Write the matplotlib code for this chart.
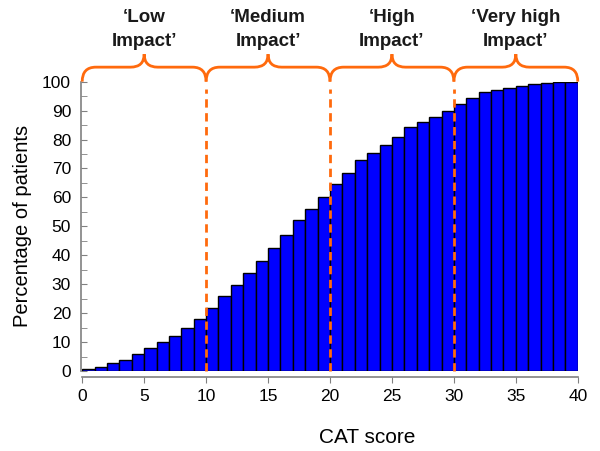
import matplotlib.pyplot as plt
from matplotlib.path import Path
from matplotlib.patches import PathPatch

plt.rcParams['font.family'] = ['Liberation Sans', 'DejaVu Sans']

# cumulative percentage of patients per CAT score (bars 0..39)
scores = list(range(40))
percent = [0.8, 1.5, 2.7, 3.9, 5.8, 7.9, 10.0, 12.1, 14.9, 18.0,
           21.9, 26.1, 29.6, 33.8, 38.2, 42.7, 47.2, 52.3, 56.1, 60.0,
           64.6, 68.5, 72.8, 75.2, 78.0, 80.9, 84.4, 85.9, 87.8, 90.0,
           92.3, 94.3, 96.4, 97.0, 97.8, 98.6, 99.2, 99.5, 99.8, 100.0]

cut_points = [10, 20, 30]
groups = ['\u2018Low\nImpact\u2019', '\u2018Medium\nImpact\u2019',
          '\u2018High\nImpact\u2019', '\u2018Very high\nImpact\u2019']
group_ranges = [(0, 10), (10, 20), (20, 30), (30, 40)]

orange = '#FF6A0D'

fig = plt.figure(figsize=(6, 4.51), dpi=100)
ax = fig.add_axes([0.137, 0.177, 0.826, 0.642])

ax.bar(scores, percent, width=1.0, align='edge', color='#0000FF',
       edgecolor='black', linewidth=1.0, zorder=2)

for c in cut_points:
    ax.plot([c, c], [0, 97.5], color=orange, lw=2, ls=(0, (3, 2)),
            zorder=3, clip_on=False)

# curly braces above each group
for (a, b), txt in zip(group_ranges, groups):
    m = (a + b) / 2
    r = 1.1
    yb, yh, yt = 100, 105, 109.5
    verts = [(a, yb), (a, yh), (a + r, yh),
             (m - r, yh), (m, yh), (m, yt),
             (m, yh), (m + r, yh),
             (b - r, yh), (b, yh), (b, yb)]
    codes = [Path.MOVETO, Path.CURVE3, Path.CURVE3,
             Path.LINETO, Path.CURVE3, Path.CURVE3,
             Path.CURVE3, Path.CURVE3,
             Path.LINETO, Path.CURVE3, Path.CURVE3]
    ax.add_patch(PathPatch(Path(verts, codes), fill=False, ec=orange,
                           lw=2, clip_on=False, zorder=3))
    ax.text(m, 118, txt, ha='center', va='center', fontsize=13.5,
            fontweight='bold', linespacing=1.6, color='#1a1a1a')

ax.set_xlim(0, 40)
ax.set_ylim(0, 100)
ax.set_xticks(range(0, 41, 5))
ax.set_yticks(range(0, 101, 10))
ax.set_yticks(range(5, 100, 10), minor=True)

for s in ['top', 'right']:
    ax.spines[s].set_visible(False)
for s in ['left', 'bottom']:
    ax.spines[s].set_color('#808080')
    ax.spines[s].set_linewidth(1.2)
ax.spines['bottom'].set_position(('outward', 4))
ax.spines['left'].set_position(('outward', 1))

ax.tick_params(axis='y', which='both', direction='in', length=4,
               color='#808080', labelsize=12.5, pad=7)
ax.tick_params(axis='x', direction='out', length=4, color='#808080',
               labelsize=12.5, pad=5)

ax.set_xlabel('CAT score', fontsize=15)
ax.xaxis.set_label_coords(0.575, -0.195)
ax.set_ylabel('Percentage of patients', fontsize=14.5)
ax.yaxis.set_label_coords(-0.102, 0.5)

fig.savefig('out.png', dpi=100)
